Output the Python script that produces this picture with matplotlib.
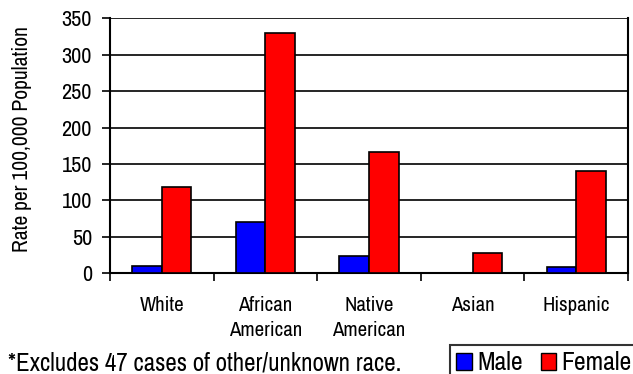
import numpy as np
import matplotlib.pyplot as plt
from matplotlib.patches import Patch

races = ['White', 'African\nAmerican', 'Native\nAmerican', 'Asian', 'Hispanic']
male = [10, 71, 24, 0, 9]
female = [118, 330, 166, 28, 141]
yticks = [0, 50, 100, 150, 200, 250, 300, 350]

plt.rcParams['font.family'] = ['Archivo Narrow', 'DejaVu Sans']

fig = plt.figure(figsize=(6.33, 3.74), dpi=100)
ax = fig.add_axes([110/633, 1-273.3/374, 518/633, 255/374])

x = np.arange(len(races))
w = 0.285
ax.bar(x - w/2, male, w, color='#0000ff', edgecolor='black', linewidth=1.2, zorder=3)
ax.bar(x + w/2, female, w, color='#ff0000', edgecolor='black', linewidth=1.2, zorder=3)

ax.set_xlim(-0.5, len(races) - 0.5)
ax.set_ylim(0, 350)
ax.set_yticks(yticks)
ax.yaxis.grid(True, color='black', linewidth=1.2, zorder=1)
ax.set_axisbelow(True)

# category boundary ticks, labels sit between them
ax.set_xticks(np.arange(len(races) + 1) - 0.5)
ax.set_xticklabels([])
ax.set_xticks(x, minor=True)
ax.set_xticklabels(races, minor=True, fontsize=15, linespacing=1.4)
ax.tick_params(axis='x', which='minor', length=0, pad=16)
ax.tick_params(axis='x', which='major', length=6, width=1.2, direction='out')
ax.tick_params(axis='y', length=6, width=1.2, labelsize=16, pad=7)

for s in ['left', 'bottom', 'right']:
    ax.spines[s].set_linewidth(1.5)
ax.spines['top'].set_visible(False)

ax.set_ylabel('Rate per 100,000 Population', fontsize=15.5)
ax.yaxis.set_label_coords(-0.15, 0.527)

fig.text(8/633, 1-371/374, '*Excludes 47 cases of other/unknown race.',
         fontsize=18, va='baseline', ha='left')

handles = [Patch(facecolor='#0000ff', edgecolor='black', label='Male'),
           Patch(facecolor='#ff0000', edgecolor='black', label='Female')]
leg = fig.legend(handles=handles, ncol=2, loc='upper left',
                 bbox_to_anchor=(450/633, 1-345/374), fontsize=18.5,
                 frameon=True, fancybox=False, edgecolor='black',
                 handlelength=0.6, handleheight=0.6, handletextpad=0.2,
                 columnspacing=0.7, borderpad=0.25, borderaxespad=0)
leg.get_frame().set_linewidth(1.5)

fig.savefig('out.png', dpi=100)
